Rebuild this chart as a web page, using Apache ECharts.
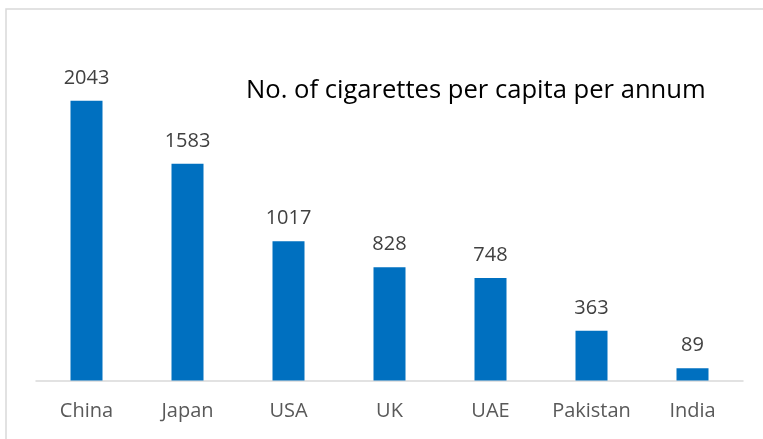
<!DOCTYPE html>
<html>
<head>
<meta charset="utf-8">
<script src="https://cdn.jsdelivr.net/npm/echarts@6/dist/echarts.min.js"></script>
<style>
  html, body { margin: 0; padding: 0; background: #fff; }
  #chart { width: 763px; height: 439px; }
</style>
</head>
<body>
<div id="chart"></div>
<script>
const countries = ["China", "Japan", "USA", "UK", "UAE", "Pakistan", "India"];
const cigarettes = [2043, 1583, 1017, 828, 748, 363, 89];
const chartTitle = "No. of cigarettes per capita per annum";

const chart = echarts.init(document.querySelector("#chart"));
chart.setOption({
    animation: false,
    textStyle: { fontFamily: "Open Sans" },
    title: {
        text: chartTitle,
        left: 241,
        top: 73,
        textStyle: { fontSize: 25.6, fontWeight: "normal", color: "#000", fontFamily: "Open Sans" }
    },
    graphic: [{
        type: "rect",
        shape: { x: 6, y: 9, width: 800, height: 500 },
        style: { fill: null, stroke: "#d9d9d9", lineWidth: 1.5 },
        silent: true
    }],
    grid: { left: 36, right: 20, top: 38.3, bottom: 58.5 },
    xAxis: {
        type: "category",
        data: countries,
        axisLine: { lineStyle: { color: "#d9d9d9", width: 1.5 } },
        axisTick: { show: false },
        axisLabel: { color: "#595959", fontSize: 20, margin: 21, interval: 0 }
    },
    yAxis: {
        type: "value",
        min: 0,
        max: 2500,
        show: false,
        splitLine: { show: false }
    },
    series: [{
        type: "bar",
        data: cigarettes,
        barWidth: 32,
        itemStyle: { color: "#0070c0" },
        label: { show: true, position: "top", distance: 13, color: "#404040", fontSize: 20 }
    }]
});
</script>
</body>
</html>
